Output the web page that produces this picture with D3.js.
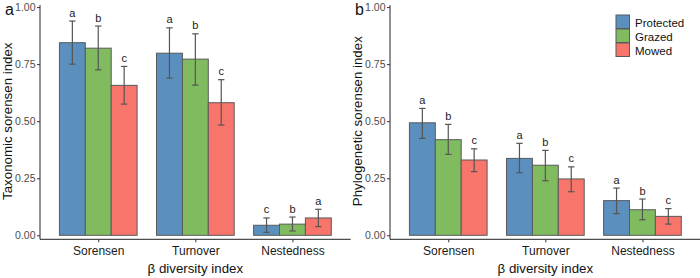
<!DOCTYPE html>
<html><head><meta charset="utf-8">
<script src="https://cdn.jsdelivr.net/npm/d3@7"></script>
<style>body{margin:0;background:#fff}svg{display:block;font-family:"Liberation Sans",Arial,sans-serif}</style>
</head><body>
<svg id="c" width="700" height="278"></svg>
<script>
const categories = ["Sorensen", "Turnover", "Nestedness"];
const treatments = ["Protected", "Grazed", "Mowed"];
const colors = ["#5b8fbe", "#80bb60", "#f8756c"];
const yTicks = [0, 0.25, 0.5, 0.75, 1.0];

// Panel a: taxonomic
const taxMean = [[0.844, 0.820, 0.657], [0.798, 0.772, 0.581], [0.044, 0.049, 0.076]];
const taxHi   = [[0.939, 0.917, 0.740], [0.909, 0.883, 0.682], [0.076, 0.080, 0.114]];
const taxLo   = [[0.750, 0.725, 0.575], [0.689, 0.658, 0.483], [0.013, 0.019, 0.038]];
const taxLet  = [["a","b","c"], ["a","b","c"], ["c","b","a"]];

// Panel b: phylogenetic
const phyMean = [[0.493, 0.419, 0.330], [0.337, 0.307, 0.247], [0.152, 0.112, 0.083]];
const phyHi   = [[0.556, 0.486, 0.379], [0.403, 0.372, 0.300], [0.207, 0.159, 0.117]];
const phyLo   = [[0.425, 0.355, 0.279], [0.274, 0.239, 0.191], [0.095, 0.068, 0.049]];
const phyLet  = [["a","b","c"], ["a","b","c"], ["a","b","c"]];

const svg = d3.select("#c");
const yTop = 7.1, yBot = 235.3;

function panel(x0, x1, mean, hi, lo, lets, tag, ytitle) {
  const g = svg.append("g");
  const y = d3.scaleLinear().domain([0, 1]).range([yBot, yTop]);
  const xc = d3.scalePoint().domain(categories).range([x0, x1]).padding(0.6);
  const step = xc.step();
  const bw = step * 0.8;
  const xs = d3.scaleBand().domain(treatments).range([-bw/2, bw/2]).padding(0);

  categories.forEach((cat, i) => {
    treatments.forEach((t, j) => {
      const bx = xc(cat) + xs(t);
      g.append("rect").attr("x", bx).attr("y", y(mean[i][j]))
        .attr("width", xs.bandwidth()).attr("height", y(0) - y(mean[i][j]))
        .attr("fill", colors[j]).attr("stroke", "#5a5a5a").attr("stroke-width", 1);
    });
  });
  categories.forEach((cat, i) => {
    treatments.forEach((t, j) => {
      const cx = xc(cat) + xs(t) + xs.bandwidth()/2;
      const cw = 3.2;
      const eg = g.append("g").attr("stroke", "#555").attr("stroke-width", 1.2);
      eg.append("line").attr("x1", cx).attr("x2", cx).attr("y1", y(hi[i][j])).attr("y2", y(lo[i][j]));
      eg.append("line").attr("x1", cx-cw).attr("x2", cx+cw).attr("y1", y(hi[i][j])).attr("y2", y(hi[i][j]));
      eg.append("line").attr("x1", cx-cw).attr("x2", cx+cw).attr("y1", y(lo[i][j])).attr("y2", y(lo[i][j]));
      g.append("text").attr("x", cx).attr("y", y(hi[i][j]) - 4.5)
        .attr("text-anchor", "middle").attr("font-size", 11).attr("fill", "#222").text(lets[i][j]);
    });
  });

  // y axis
  const ya = g.append("g").attr("transform", `translate(${x0},0)`)
    .call(d3.axisLeft(y).tickValues(yTicks).tickFormat(d3.format(".2f")).tickSize(3).tickPadding(1.5));
  ya.select(".domain").attr("stroke", "#222").attr("d", `M0,${yTop-2}V${yBot+4}`);
  ya.selectAll(".tick line").attr("stroke", "#333");
  ya.selectAll(".tick text").attr("font-size", 10.5).attr("fill", "#4d4d4d").attr("font-family", "Liberation Sans, Arial, sans-serif");

  // x axis
  const xa = g.append("g").attr("transform", `translate(0,${yBot+4})`)
    .call(d3.axisBottom(xc).tickSize(3).tickPadding(4));
  xa.select(".domain").attr("stroke", "#222").attr("d", `M${x0},0H${x1}`);
  xa.selectAll(".tick line").attr("stroke", "#333");
  xa.selectAll(".tick text").attr("font-size", 12).attr("fill", "#1a1a1a").attr("font-family", "Liberation Sans, Arial, sans-serif");

  g.append("text").attr("x", (x0 + x1)/2).attr("y", 273).attr("text-anchor", "middle")
    .attr("font-size", 13.3).attr("fill", "#111").text("β diversity index");
  g.append("text").attr("transform", `translate(${x0-28},${(yTop+yBot)/2}) rotate(-90)`)
    .attr("text-anchor", "middle").attr("font-size", 13.3).attr("fill", "#111").text(ytitle);
  g.append("text").attr("x", x0 - 35).attr("y", 15).attr("font-size", 16).attr("fill", "#111").text(tag);
}

panel(40, 350.7, taxMean, taxHi, taxLo, taxLet, "a", "Taxonomic sorensen index");
panel(390, 700.7, phyMean, phyHi, phyLo, phyLet, "b", "Phylogenetic sorensen index");

// legend
const lg = svg.append("g").attr("transform", "translate(616,15)");
treatments.forEach((t, j) => {
  lg.append("rect").attr("x", 0).attr("y", j*14).attr("width", 13.5).attr("height", 13.5)
    .attr("fill", colors[j]).attr("stroke", "#5a5a5a").attr("stroke-width", 1);
  lg.append("text").attr("x", 19).attr("y", j*14 + 11.5).attr("font-size", 11.5).attr("fill", "#111").text(t);
});
</script>
</body></html>
